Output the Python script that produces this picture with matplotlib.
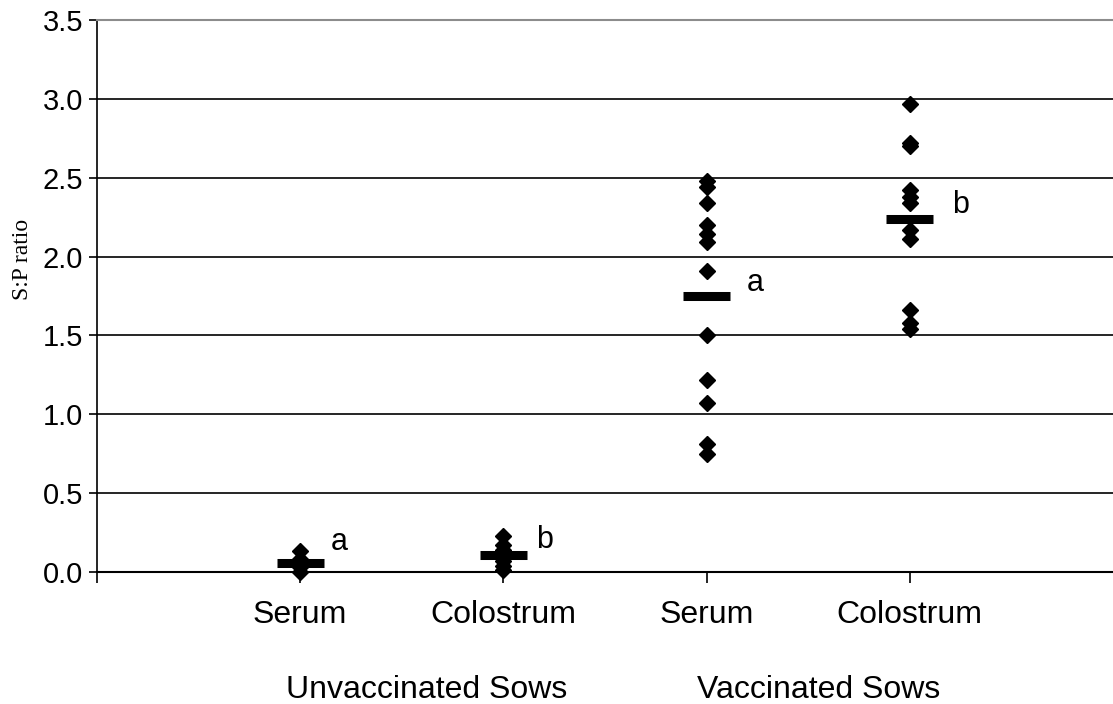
import matplotlib
matplotlib.use("Agg")
import matplotlib.pyplot as plt

# Individual S:P ratios per group
unvac_serum = [0.13, 0.08, 0.05, 0.03, 0.00]
unvac_colostrum = [0.23, 0.17, 0.14, 0.10, 0.07, 0.04, 0.01]
vac_serum = [2.48, 2.44, 2.34, 2.20, 2.14, 2.09, 1.91, 1.50, 1.22, 1.07, 0.81, 0.75]
vac_colostrum = [2.97, 2.72, 2.70, 2.42, 2.38, 2.34, 2.17, 2.11, 1.66, 1.58, 1.54]

# Group means and significance letters
group_means = [0.06, 0.11, 1.75, 2.24]
sig_letters = ["a", "b", "a", "b"]

categories = ["Serum", "Colostrum", "Serum", "Colostrum"]
group_names = ["Unvaccinated Sows", "Vaccinated Sows"]
y_ticks = [0.0, 0.5, 1.0, 1.5, 2.0, 2.5, 3.0, 3.5]

series = [unvac_serum, unvac_colostrum, vac_serum, vac_colostrum]

W, H = 1113, 704
fig = plt.figure(figsize=(W / 100, H / 100), dpi=100)
ax = fig.add_axes([97 / W, (H - 572) / H, 1 - 97 / W, 552 / H])

sans = "Liberation Sans"
fs_y = 21
fs = 23

ax.set_xlim(0, 5)
ax.set_ylim(0, 3.5)

# horizontal gridlines
for yv in y_ticks[1:-1]:
    ax.axhline(yv, color="black", lw=1.2, zorder=1)

positions = [1, 2, 3, 4]
for pos, vals in zip(positions, series):
    ax.plot([pos] * len(vals), vals, linestyle="none", marker="D",
            markersize=8, color="black", clip_on=False, zorder=3)

half = 0.115
for pos, m in zip(positions, group_means):
    ax.hlines(m, pos - half, pos + half, colors="black", lw=6.5,
              capstyle="butt", zorder=4)

# letters next to each mean bar
letter_offsets = [(0.19, 0.13), (0.20, 0.09), (0.24, 0.08), (0.25, 0.09)]
for pos, m, lab, (dx, dy) in zip(positions, group_means, sig_letters, letter_offsets):
    ax.text(pos + dx, m + dy, lab, ha="center", va="center",
            fontsize=22, family=sans, zorder=5)

# axes styling
ax.spines["right"].set_visible(False)
ax.spines["top"].set_color("#8c8c8c")
ax.spines["top"].set_linewidth(1.5)
ax.spines["left"].set_linewidth(1.2)
ax.spines["bottom"].set_linewidth(1.5)

ax.set_yticks(y_ticks)
ax.set_yticklabels([f"{v:.1f}" for v in y_ticks], family=sans, fontsize=fs_y)
ax.tick_params(axis="y", direction="out", length=6, width=1.2, pad=4)

ax.set_xticks([0, 1, 2, 3, 4])
ax.set_xticklabels([""] + categories, family=sans, fontsize=fs)
ax.tick_params(axis="x", direction="out", length=8, width=1.2, pad=12)

xf = ax.get_xaxis_transform()
ax.text(1.62, -0.214, group_names[0], transform=xf, ha="center", va="center",
        fontsize=fs, family=sans)
ax.text(3.55, -0.214, group_names[1], transform=xf, ha="center", va="center",
        fontsize=fs, family=sans)

fig.text(23 / W, 1 - 259 / H, "S:P ratio", rotation=90, ha="center",
         va="center", fontsize=17, family="Liberation Serif")

fig.savefig("out.png", dpi=100)
